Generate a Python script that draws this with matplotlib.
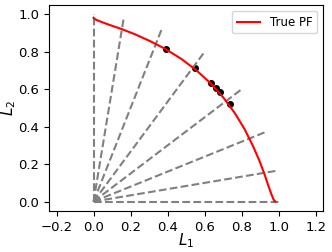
import matplotlib
matplotlib.use("Agg")
from matplotlib import pyplot as plt

# true pareto front
pf_l1 = [0.0, 0.010, 0.039, 0.086, 0.148, 0.221, 0.302, 0.387, 0.473, 0.555, 0.632,
         0.702, 0.763, 0.816, 0.859, 0.895, 0.923, 0.944, 0.961, 0.973, 0.982]
pf_l2 = pf_l1[::-1]

# preference rays, end points
ray_x = [0.0, 0.164, 0.371, 0.600, 0.800, 0.928, 0.986, 1.0]
ray_y = [1.0, 0.986, 0.928, 0.800, 0.600, 0.371, 0.164, 0.0]

# solutions found
sol_l1 = [0.389, 0.546, 0.636, 0.659, 0.681, 0.735]
sol_l2 = [0.817, 0.715, 0.635, 0.608, 0.587, 0.522]

fig = plt.figure(figsize=(3.32, 2.52), dpi=100)
ax = fig.add_axes([0.148, 0.163, 0.825, 0.817])

ax.scatter(sol_l1, sol_l2, s=16, c="black", zorder=2)
for x, y in zip(ray_x, ray_y):
    ax.plot([0, x], [0, y], "--", color="gray", lw=1.5, zorder=3)
ax.plot(pf_l1, pf_l2, color="red", lw=1.5, label="True PF", zorder=4)

ax.set_xlim(-0.24, 1.24)
ax.set_ylim(-0.05, 1.05)
ax.set_xticks([-0.2, 0.0, 0.2, 0.4, 0.6, 0.8, 1.0, 1.2])
ax.set_yticks([0.0, 0.2, 0.4, 0.6, 0.8, 1.0])
ax.tick_params(labelsize=9.5)
ax.set_xlabel("$L_1$", fontsize=11, labelpad=-2)
ax.set_ylabel("$L_2$", fontsize=11, labelpad=0)
ax.legend(loc="upper right", fontsize=8.5)

fig.savefig("out.png", dpi=100)
